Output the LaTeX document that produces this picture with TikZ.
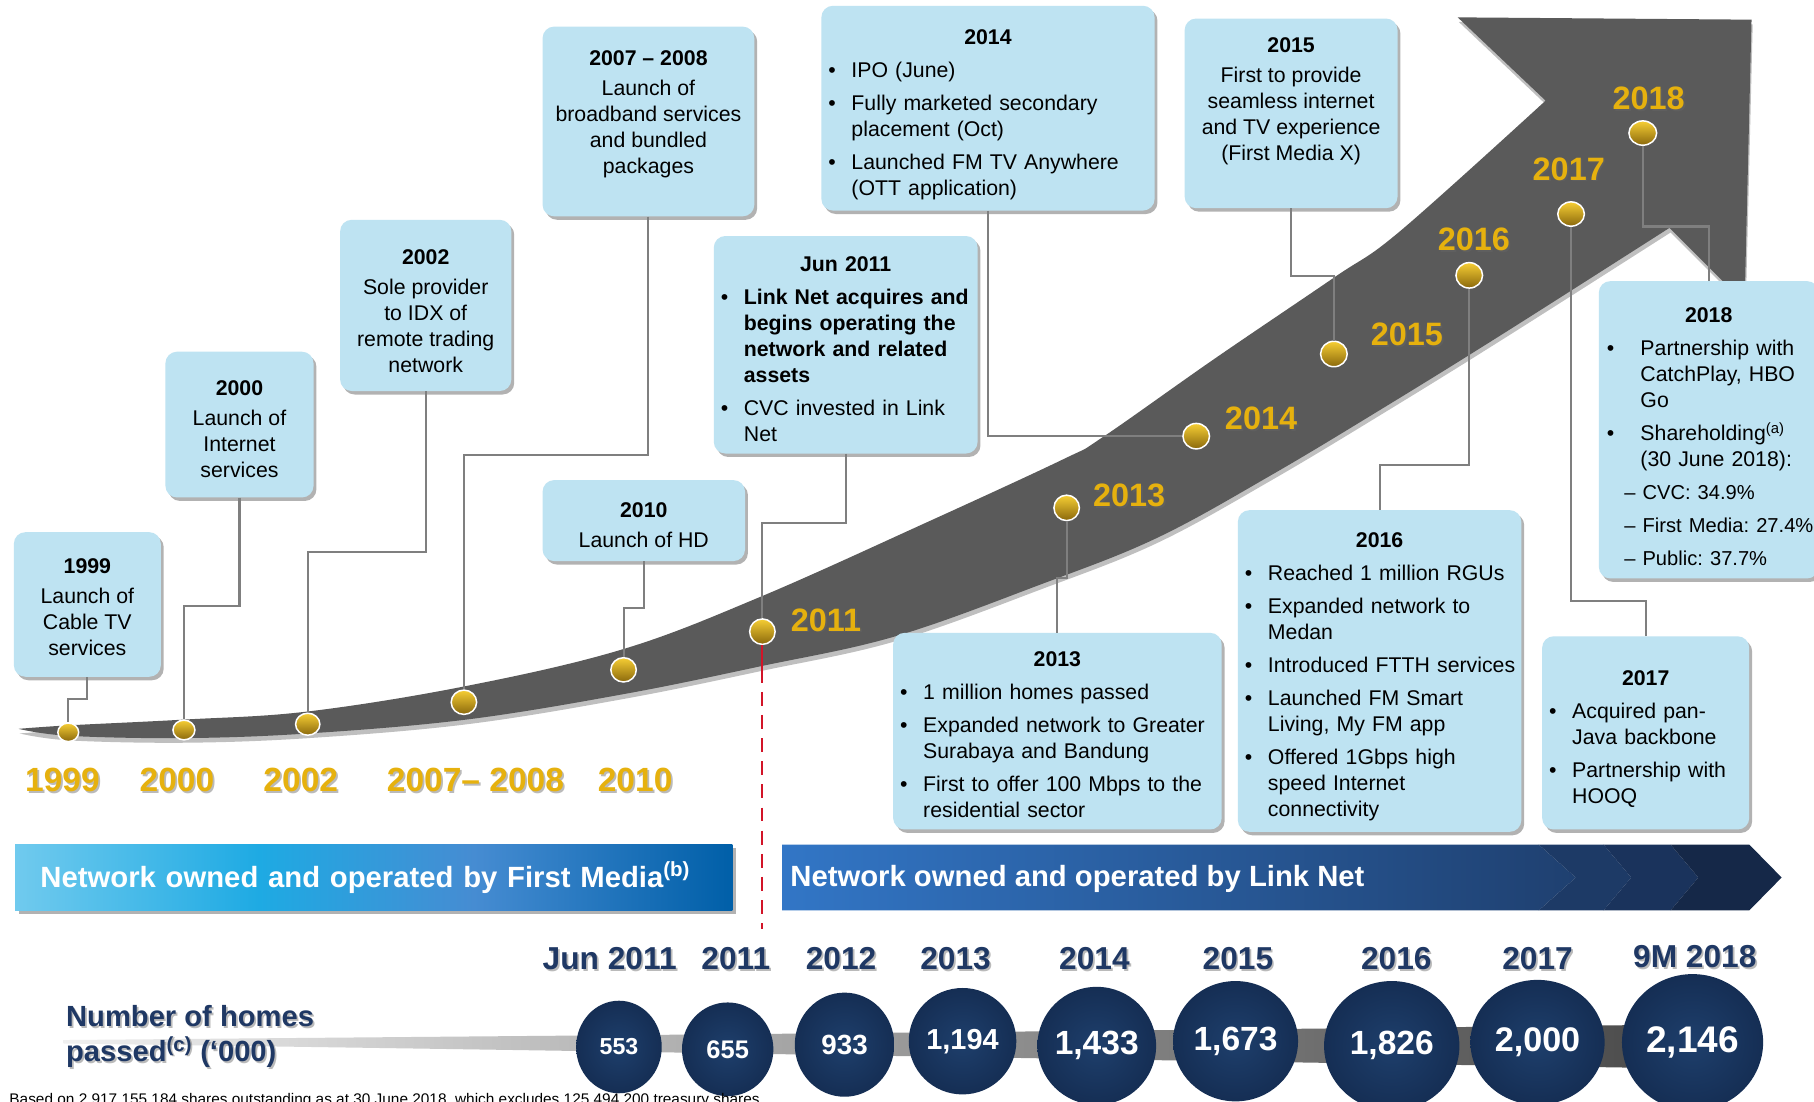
\documentclass[tikz,border=0pt]{standalone}
\usepackage{fontspec}
\setmainfont{Liberation Sans}
\usetikzlibrary{shapes.geometric,shadows}
\definecolor{boxblue}{RGB}{190,227,242}
\definecolor{conngray}{RGB}{127,127,127}
\definecolor{goldtxt}{RGB}{230,177,14}
\definecolor{dotlight}{RGB}{246,206,52}
\definecolor{dotdark}{RGB}{138,104,12}
\definecolor{navy}{RGB}{31,56,100}
\definecolor{bandgray}{RGB}{90,90,90}
\definecolor{circin}{RGB}{30,63,108}
\definecolor{circout}{RGB}{21,46,84}
\definecolor{fmA}{RGB}{112,202,238}
\definecolor{fmB}{RGB}{30,170,227}
\definecolor{fmC}{RGB}{70,140,210}
\definecolor{fmD}{RGB}{0,95,168}
\definecolor{lnA}{RGB}{50,118,198}
\definecolor{lnB}{RGB}{31,64,112}
\definecolor{lnC}{RGB}{29,58,102}
\definecolor{lnD}{RGB}{26,51,92}
\definecolor{lnE}{RGB}{21,40,72}
\definecolor{redline}{RGB}{210,20,40}
\pgfdeclarehorizontalshading{fmshade}{100bp}{color(0bp)=(fmA); color(25bp)=(fmA); color(42bp)=(fmB); color(57bp)=(fmC); color(75bp)=(fmD); color(100bp)=(fmD)}
\frenchspacing
\newlength\bulind
\setlength\bulind{20pt}
\newcommand\psk{\setlength{\parskip}{6pt}}
\newcommand\nl{\hfil\break}
\newcommand\bul[1]{\par\hangindent=\bulind\hangafter=1\noindent\hbox to\bulind{\textbullet\hfil}#1}
\newcommand\hd[2]{{\centering\rule{0pt}{#1}\textbf{#2}\par}}
\newcommand\stx[5]{\node[#4,text=black!60,opacity=0.45] (#1s) at (#2+1.5,#3+1.5) {#5};\node[#4] (#1) at (#2,#3) {#5};}
\tikzset{
 evbox/.style={fill=boxblue, rounded corners=10pt, inner xsep=6pt, inner ysep=0pt,
   font=\fontsize{18.4}{22.5}\selectfont,
   drop shadow={shadow xshift=2.5pt, shadow yshift=-3pt, opacity=0.3, fill=black}},
 cbox/.style={evbox, align=center},
 lbox/.style={evbox, align=left},
 conn/.style={draw=conngray, line width=1.8pt},
 dot/.style={ellipse, draw=white, line width=1.3pt, top color=dotlight, bottom color=dotdark, inner sep=0pt},
 goldyr/.style={font=\fontsize{28}{30}\selectfont\bfseries, text=goldtxt, inner sep=0pt},
 goldbig/.style={font=\fontsize{29}{30}\selectfont\bfseries, text=goldtxt, inner sep=0pt},
 navyyr/.style={font=\fontsize{27.4}{30}\selectfont\bfseries, text=navy, inner sep=0pt},
 num/.style={ellipse, inner sep=0pt, inner color=circin, outer color=circout, text=white},
 subl/.style={},
}
\newcommand\subline[1]{\par\noindent\hspace*{15pt}\mbox{\fontsize{17.4}{22.5}\selectfont\textendash{} #1}}
\begin{document}
\begin{tikzpicture}[x=1pt,y=-1pt]
\useasboundingbox (0,0) rectangle (1568,952);
\fill[white] (0,0) rectangle (1568,952);
\clip (0,0) rectangle (1568,952);

% big curved arrow
\fill[bandgray, drop shadow={shadow xshift=1pt, shadow yshift=-4pt, opacity=0.25, fill=black}]
 plot[smooth, tension=0.6] coordinates {(16,630) (59,636) (159,638) (266,634) (403,622) (539,600) (657,576) (774,550) (900,505) (1000,465) (1100,410) (1200,350) (1300,288) (1443,197)}
 -- (1508,262) -- (1514,17) -- (1260,15) -- (1336,87)
 -- plot[smooth, tension=0.6] coordinates {(1336,87) (1210,200) (1153,240) (1050,310) (953,378) (919,397) (800,452) (657,516) (539,561) (403,593) (266,615) (159,622) (59,627) (16,630)} -- cycle;

% event boxes
\node[cbox, minimum width=127pt, minimum height=125pt] (b1999) at (75.5,522.5) {\rule{0pt}{17pt}\textbf{1999}\\[3.5pt]Launch of\\Cable TV\\services};
\node[cbox, minimum width=128pt, minimum height=126pt] (b2000) at (207,367) {\rule{0pt}{21pt}\textbf{2000}\\[3.5pt]Launch of\\Internet\\services};
\node[cbox, minimum width=148pt, minimum height=148pt] (b2002) at (368,264) {\rule{0pt}{23pt}\textbf{2002}\\[3.5pt]Sole provider\\to IDX of\\remote trading\\network};
\node[cbox, minimum width=183pt, minimum height=164pt] (b2007) at (560.5,105) {\rule{0pt}{19pt}\textbf{2007 – 2008}\\[3.5pt]Launch of\\broadband services\\and bundled\\packages\\[0pt]\mbox{}};
\node[cbox, minimum width=175pt, minimum height=70pt] (b2010) at (556.5,450) {\rule{0pt}{21pt}\textbf{2010}\\[3.5pt]Launch of HD};
\node[cbox, minimum width=184pt, minimum height=164pt] (b2015) at (1116,98) {\rule{0pt}{15pt}\textbf{2015}\\[3.5pt]First to provide\\seamless internet\\and TV experience\\(First Media X)\\[4pt]\mbox{}};

\node[lbox, minimum width=228pt, minimum height=188pt, text width=216pt] (bjun) at (731,298) {\psk\hd{21pt}{Jun 2011}%
\bul{\textbf{\mbox{Link Net acquires and}\nl\mbox{begins operating the}\nl\mbox{network and related}\nl\mbox{assets}}}%
\bul{\mbox{CVC invested in Link}\nl\mbox{Net}}\par};
\node[lbox, minimum width=288pt, minimum height=177pt, text width=276pt] (b2014) at (854,93.5) {\psk\hd{25pt}{2014}%
\bul{\mbox{IPO (June)}}%
\bul{\mbox{Fully marketed secondary}\nl\mbox{placement (Oct)}}%
\bul{\mbox{Launched FM TV Anywhere}\nl\mbox{(OTT application)}}\par};
\node[lbox, minimum width=284pt, minimum height=170pt, text width=272pt] (b2013) at (914,632) {\psk\hd{19pt}{2013}%
\bul{\mbox{1 million homes passed}}%
\bul{\mbox{Expanded network to Greater}\nl\mbox{Surabaya and Bandung}}%
\bul{\mbox{First to offer 100 Mbps to the}\nl\mbox{residential sector}}\par};
\node[lbox, minimum width=245pt, minimum height=278pt, text width=233pt] (b2016) at (1192.5,580) {\psk\hd{23pt}{2016}%
\bul{\mbox{Reached 1 million RGUs}}%
\bul{\mbox{Expanded network to}\nl\mbox{Medan}}%
\bul{\mbox{Introduced FTTH services}}%
\bul{\mbox{Launched FM Smart}\nl\mbox{Living, My FM app}}%
\bul{\mbox{Offered 1Gbps high}\nl\mbox{speed Internet}\nl\mbox{connectivity}}\par};
\node[lbox, minimum width=179pt, minimum height=167pt, text width=167pt] (b2017) at (1422.5,633.5) {\psk\hd{23pt}{2017}%
\bul{\mbox{Acquired pan-}\nl\mbox{Java backbone}}%
\bul{\mbox{Partnership with}\nl\mbox{HOOQ}}\par};
\node[lbox, minimum width=190pt, minimum height=257pt, inner xsep=7pt, text width=176pt] (b2018) at (1477,371.5) {\psk\setlength\bulind{29pt}\hd{25pt}{2018}%
\bul{\mbox{Partnership with}\nl\mbox{CatchPlay, HBO}\nl\mbox{Go}}%
\bul{\mbox{Shareholding\textsuperscript{(a)}}\nl\mbox{(30 June 2018):}}%
\subline{CVC: 34.9\%}\subline{First Media: 27.4\%}\subline{Public: 37.7\%}\par};

% dots
\node[dot, minimum width=18pt, minimum height=16pt] (d1999) at (59,633) {};
\node[dot, minimum width=19pt, minimum height=17pt] (d2000) at (159,631) {};
\node[dot, minimum width=21pt, minimum height=19pt] (d2002) at (266,626) {};
\node[dot, minimum width=22pt, minimum height=21pt] (d2007) at (401,607) {};
\node[dot, minimum width=22pt, minimum height=21pt] (d2010) at (539,579) {};
\node[dot, minimum width=22pt, minimum height=22pt] (d2011) at (659,546) {};
\node[dot, minimum width=22pt, minimum height=22pt] (d2013) at (922,439) {};
\node[dot, minimum width=23pt, minimum height=22pt] (d2014) at (1034,377) {};
\node[dot, minimum width=23pt, minimum height=22pt] (d2015) at (1153,306) {};
\node[dot, minimum width=23pt, minimum height=22pt] (d2016) at (1270,238) {};
\node[dot, minimum width=23pt, minimum height=21pt] (d2017) at (1358,185) {};
\node[dot, minimum width=24pt, minimum height=21pt] (d2018) at (1420,115) {};

% connectors
\draw[conn] (b1999.south) -- ++(0,19) -| (d1999.north);
\draw[conn] (b2000.south) -- ++(0,94) -| (d2000.north);
\draw[conn] (b2002.south) -- ++(0,139) -| (d2002.north);
\draw[conn] (b2007.south) -- ++(0,206) -| (d2007.north);
\draw[conn] (b2010.south) -- ++(0,40) -| (d2010.north);
\draw[conn] (bjun.south) -- ++(0,60) -| (d2011.north);
\draw[conn] (b2014.south) |- (d2014.west);
\draw[conn] (b2015.south) -- ++(0,58) -| (d2015.north);
\draw[conn] (b2013.north) -- ++(0,-47) -| (d2013.south);
\draw[conn] (b2016.north) -- ++(0,-39) -| (d2016.south);
\draw[conn] (b2017.north) -- ++(0,-30) -| (d2017.south);
\draw[conn] (b2018.north) -- ++(0,-47) -| (d2018.south);

% red divider
\coordinate (rb) at (659,578);
\coordinate (re) at (659,803);
\draw[redline, line width=1.6pt] (d2011.south) -- (rb);
\draw[redline, line width=1.6pt, dash pattern=on 12pt off 8pt] (rb) -- (re);

% gold year labels on arrow
\stx{l2011}{714}{536}{goldyr}{2011}
\stx{l2013}{976}{428}{goldyr}{2013}
\stx{l2014}{1090}{362}{goldyr}{2014}
\stx{l2015}{1216}{289}{goldyr}{2015}
\stx{l2016}{1274}{207}{goldyr}{2016}
\stx{l2017}{1356}{146}{goldyr}{2017}
\stx{l2018}{1425}{85}{goldyr}{2018}
% gold year labels below
\stx{y1999}{54}{674}{goldbig}{1999}
\stx{y2000}{153}{674}{goldbig}{2000}
\stx{y2002}{260}{674}{goldbig}{2002}
\stx{y2007}{411}{674}{goldbig}{2007– 2008}
\stx{y2010}{549}{674}{goldbig}{2010}

% banners
\node[shading=fmshade, minimum width=620pt, minimum height=57pt, inner xsep=22pt, text width=576pt, align=left,
  text=white, font=\fontsize{25.3}{28}\selectfont\bfseries,
  drop shadow={shadow xshift=3pt, shadow yshift=-3pt, opacity=0.3, fill=black}] (fmb) at (323,758.5)
  {Network owned and operated by First Media\textsuperscript{(b)}};
\begin{scope}[drop shadow={shadow xshift=3pt, shadow yshift=-3pt, opacity=0.3, fill=black}]
\shade[left color=lnA, right color=lnB] (676,730) -- (1330,730) -- (1362,758.5) -- (1330,787) -- (676,787) -- cycle;
\end{scope}
\fill[lnC] (1330,730) -- (1386,730) -- (1410,758.5) -- (1386,787) -- (1330,787) -- (1362,758.5) -- cycle;
\fill[lnD] (1386,730) -- (1444,730) -- (1468,758.5) -- (1444,787) -- (1386,787) -- (1410,758.5) -- cycle;
\fill[lnE] (1444,730) -- (1512,730) -- (1540,758.5) -- (1512,787) -- (1444,787) -- (1468,758.5) -- cycle;
\node[anchor=west, text=white, font=\fontsize{25.3}{28}\selectfont\bfseries, inner sep=0pt] (lnb) at (683,760) {Network owned and operated by Link Net};

% homes passed band
\shade[left color=black!6, middle color=black!42, right color=black!70]
  (55,899) .. controls (500,895) and (900,892) .. (1420,886) -- (1420,923) .. controls (900,915) and (500,908) .. (55,902) -- cycle;
\stx{nh}{57}{896}{anchor=west, align=left, font=\fontsize{25.2}{30}\selectfont\bfseries, text=navy, inner sep=0pt}{Number of homes\\passed\textsuperscript{(c)} (‘000)}

% bottom years
\stx{n1}{527}{829}{navyyr}{Jun 2011}
\stx{n2}{636}{829}{navyyr}{2011}
\stx{n3}{727}{829}{navyyr}{2012}
\stx{n4}{826}{829}{navyyr}{2013}
\stx{n5}{946}{829}{navyyr}{2014}
\stx{n6}{1070}{829}{navyyr}{2015}
\stx{n7}{1207}{829}{navyyr}{2016}
\stx{n8}{1329}{829}{navyyr}{2017}
\stx{n9}{1465}{827}{navyyr}{9M 2018}

% number circles
\node[num, minimum width=74pt, minimum height=80pt, font=\fontsize{20}{22}\selectfont\bfseries] (c553) at (535,905) {553};
\node[num, minimum width=79pt, minimum height=81pt, font=\fontsize{22}{24}\selectfont\bfseries] (c655) at (629,907) {655};
\node[num, minimum width=86pt, minimum height=90pt, font=\fontsize{24}{26}\selectfont\bfseries] (c933) at (730,903) {933};
\node[num, minimum width=93pt, minimum height=92pt, font=\fontsize{25}{27}\selectfont\bfseries] (c1194) at (832,900) {1,194};
\node[num, minimum width=101pt, minimum height=102pt, font=\fontsize{29}{31}\selectfont\bfseries] (c1433) at (948,904) {1,433};
\node[num, minimum width=108pt, minimum height=104pt, font=\fontsize{29}{31}\selectfont\bfseries] (c1673) at (1068,900) {1,673};
\node[num, minimum width=117pt, minimum height=112pt, font=\fontsize{29}{31}\selectfont\bfseries] (c1826) at (1203,904) {1,826};
\node[num, minimum width=116pt, minimum height=108pt, font=\fontsize{29.5}{31}\selectfont\bfseries] (c2000) at (1329,901) {2,000};
\node[num, minimum width=122pt, minimum height=118pt, font=\fontsize{32}{34}\selectfont\bfseries] (c2146) at (1463,901) {2,146};

% footnote (cut off by page edge, as in the original)
\node[anchor=base west, font=\fontsize{13.3}{15}\selectfont, inner sep=0pt] (fn) at (8,955) {Based on 2,917,155,184 shares outstanding as at 30 June 2018, which excludes 125,494,200 treasury shares};
\end{tikzpicture}
\end{document}
